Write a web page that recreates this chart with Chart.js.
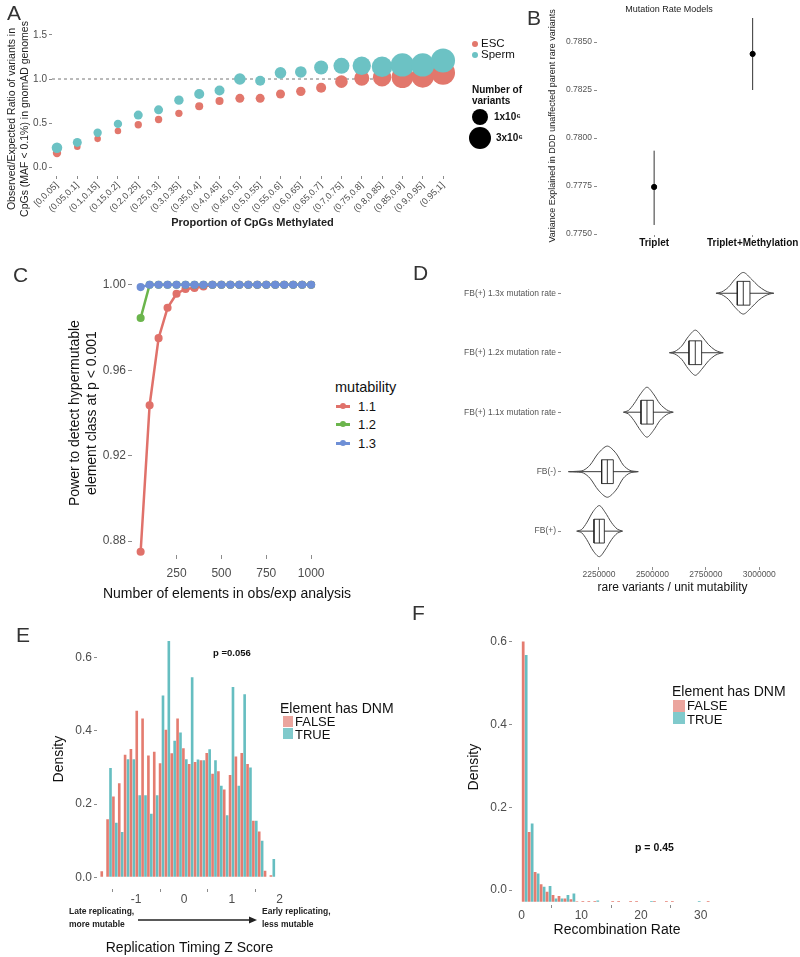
<!DOCTYPE html>
<html>
<head>
<meta charset="utf-8">
<script src="https://cdn.jsdelivr.net/npm/chart.js@4.4.1/dist/chart.umd.min.js"></script>
<style>
body { margin: 0; background: #fff; font-family: "Liberation Sans", Arial, sans-serif; }
#page { position: relative; width: 800px; height: 957px; overflow: hidden; }
canvas { position: absolute; }
.t { position: absolute; white-space: nowrap; line-height: 1; color: #111; }
.letter { position: absolute; font-size: 21px; color: #333; line-height: 1; }
.dot { position: absolute; border-radius: 50%; }
.sw { position: absolute; }
</style>
</head>
<body>
<div id="page">
  <canvas id="chartA" width="465" height="232" style="left:0;top:0"></canvas>
  <canvas id="chartB" width="260" height="250" style="left:540px;top:0"></canvas>
  <canvas id="chartC" width="272" height="343" style="left:60px;top:262px"></canvas>
  <canvas id="chartD" width="400" height="346" style="left:400px;top:250px"></canvas>
  <canvas id="chartE" width="252" height="337" style="left:40px;top:620px"></canvas>
  <canvas id="chartF" width="282" height="320" style="left:450px;top:620px"></canvas>

  <!-- panel letters -->
  <div class="letter" style="left:7px;top:2px">A</div>
  <div class="letter" style="left:527px;top:7px">B</div>
  <div class="letter" style="left:13px;top:264px">C</div>
  <div class="letter" style="left:413px;top:262px">D</div>
  <div class="letter" style="left:16px;top:624px">E</div>
  <div class="letter" style="left:412px;top:602px">F</div>

  <!-- A: y title and legends -->
  <div class="t" style="left:-92px;top:106px;width:220px;height:26px;font-size:10.5px;line-height:13px;text-align:center;transform:rotate(-90deg);color:#222">Observed/Expected Ratio of variants in<br>CpGs (MAF &lt; 0.1%) in gnomAD genomes</div>
  <div class="dot" style="left:472px;top:41px;width:6px;height:6px;background:#e2776c"></div>
  <div class="t" style="left:481px;top:38px;font-size:11.5px">ESC</div>
  <div class="dot" style="left:472px;top:52px;width:6px;height:6px;background:#6cc2c4"></div>
  <div class="t" style="left:481px;top:49px;font-size:11.5px">Sperm</div>
  <div class="t" style="left:472px;top:85px;font-size:10px;font-weight:bold">Number of</div>
  <div class="t" style="left:472px;top:96px;font-size:10px;font-weight:bold">variants</div>
  <div class="dot" style="left:472px;top:109px;width:16px;height:16px;background:#000"></div>
  <div class="t" style="left:494px;top:112px;font-size:10px;font-weight:bold">1x10⁶</div>
  <div class="dot" style="left:469px;top:127px;width:22px;height:22px;background:#000"></div>
  <div class="t" style="left:496px;top:133px;font-size:10px;font-weight:bold">3x10⁶</div>

  <!-- C: x title and legend -->
  <div class="t" style="left:100px;top:586px;width:254px;text-align:center;font-size:14px">Number of elements in obs/exp analysis</div>
  <div class="t" style="left:335px;top:380px;font-size:14.5px">mutability</div>
  <div class="sw" style="left:336px;top:405px;width:14px;height:2.5px;background:#e0716a"></div>
  <div class="dot" style="left:340px;top:403px;width:6px;height:6px;background:#e0716a"></div>
  <div class="t" style="left:358px;top:400px;font-size:13px">1.1</div>
  <div class="sw" style="left:336px;top:423px;width:14px;height:2.5px;background:#6bb54c"></div>
  <div class="dot" style="left:340px;top:421px;width:6px;height:6px;background:#6bb54c"></div>
  <div class="t" style="left:358px;top:418px;font-size:13px">1.2</div>
  <div class="sw" style="left:336px;top:442px;width:14px;height:2.5px;background:#6e8fd6"></div>
  <div class="dot" style="left:340px;top:440px;width:6px;height:6px;background:#6e8fd6"></div>
  <div class="t" style="left:358px;top:437px;font-size:13px">1.3</div>

  <!-- E annotations and legend -->
  <div class="t" style="left:213px;top:648px;font-size:9.5px;font-weight:bold">p =0.056</div>
  <div class="t" style="left:280px;top:701px;font-size:14px">Element has DNM</div>
  <div class="sw" style="left:283px;top:716px;width:10px;height:11px;background:#eba59e"></div>
  <div class="t" style="left:295px;top:715px;font-size:13px">FALSE</div>
  <div class="sw" style="left:283px;top:728px;width:10px;height:11px;background:#80cacc"></div>
  <div class="t" style="left:295px;top:728px;font-size:13px">TRUE</div>
  <div class="t" style="left:69px;top:907px;font-size:8.5px;font-weight:bold;color:#222">Late replicating,</div>
  <div class="t" style="left:69px;top:920px;font-size:8.5px;font-weight:bold;color:#222">more mutable</div>
  <div class="t" style="left:262px;top:907px;font-size:8.5px;font-weight:bold;color:#222">Early replicating,</div>
  <div class="t" style="left:262px;top:920px;font-size:8.5px;font-weight:bold;color:#222">less mutable</div>
  <svg style="position:absolute;left:130px;top:912px" width="135" height="16">
    <line x1="8" y1="8" x2="121" y2="8" stroke="#222" stroke-width="1.6"></line>
    <polygon points="127,8 119,4.5 119,11.5" fill="#222"></polygon>
  </svg>

  <!-- F annotations and legend -->
  <div class="t" style="left:635px;top:842px;font-size:10.5px;font-weight:bold">p = 0.45</div>
  <div class="t" style="left:672px;top:684px;font-size:14px">Element has DNM</div>
  <div class="sw" style="left:673px;top:700px;width:12px;height:12px;background:#eba59e"></div>
  <div class="t" style="left:687px;top:699px;font-size:13px">FALSE</div>
  <div class="sw" style="left:673px;top:712px;width:12px;height:12px;background:#80cacc"></div>
  <div class="t" style="left:687px;top:713px;font-size:13px">TRUE</div>
</div>

<script>
// ---- A: obs/exp ratio of CpG variants by methylation bin ----
var binsA = ['[0,0.05]', '(0.05,0.1]', '(0.1,0.15]', '(0.15,0.2]', '(0.2,0.25]', '(0.25,0.3]', '(0.3,0.35]',
	'(0.35,0.4]', '(0.4,0.45]', '(0.45,0.5]', '(0.5,0.55]', '(0.55,0.6]', '(0.6,0.65]', '(0.65,0.7]',
	'(0.7,0.75]', '(0.75,0.8]', '(0.8,0.85]', '(0.85,0.9]', '(0.9,0.95]', '(0.95,1]'];
var escRatio = [0.16, 0.23, 0.32, 0.41, 0.48, 0.54, 0.61, 0.69, 0.75, 0.78, 0.78, 0.83, 0.86, 0.90, 0.97, 1.01, 1.02, 1.02, 1.03, 1.07];
var spermRatio = [0.22, 0.28, 0.39, 0.49, 0.59, 0.65, 0.76, 0.83, 0.87, 1.00, 0.98, 1.07, 1.08, 1.13, 1.15, 1.15, 1.14, 1.16, 1.16, 1.21];
var escCount = [0.19, 0.04, 0.04, 0.04, 0.10, 0.10, 0.10, 0.16, 0.16, 0.25, 0.25, 0.25, 0.29, 0.36, 0.68, 1.05, 1.68, 2.39, 2.64, 3.0]; // millions
var spermCount = [0.42, 0.25, 0.19, 0.19, 0.25, 0.25, 0.29, 0.36, 0.36, 0.55, 0.36, 0.55, 0.55, 0.89, 1.22, 1.68, 2.16, 2.84, 2.84, 3.0];
var ticksAy = [0, 0.5, 1.0, 1.5];

// ---- B: variance explained per model ----
var modelsB = ['Triplet', 'Triplet+Methylation'];
var varExpB = [0.77745, 0.78438];
var varLoB = [0.77547, 0.78250];
var varHiB = [0.77934, 0.78625];
var ticksBy = [0.7750, 0.7775, 0.7800, 0.7825, 0.7850];

// ---- C: power curves ----
var nElements = [50, 100, 150, 200, 250, 300, 350, 400, 450, 500, 550, 600, 650, 700, 750, 800, 850, 900, 950, 1000];
var power11 = [0.875, 0.9436, 0.975, 0.9892, 0.9958, 0.998, 0.9985, 0.9992, 1, 1, 1, 1, 1, 1, 1, 1, 1, 1, 1, 1];
var power12 = [0.9844, 1, 1, 1, 1, 1, 1, 1, 1, 1, 1, 1, 1, 1, 1, 1, 1, 1, 1, 1];
var power13 = [0.9989, 1, 1, 1, 1, 1, 1, 1, 1, 1, 1, 1, 1, 1, 1, 1, 1, 1, 1, 1];
var ticksCx = [250, 500, 750, 1000];
var ticksCy = [0.88, 0.92, 0.96, 1.00];

// ---- D: violins (bottom to top) ----
var groupsD = ['FB(+)', 'FB(-)', 'FB(+) 1.1x mutation rate', 'FB(+) 1.2x mutation rate', 'FB(+) 1.3x mutation rate'];
var medianD = [2251600, 2289000, 2474500, 2700600, 2925200];
var q1D = [2226600, 2262500, 2446500, 2671000, 2897100];
var q3D = [2275000, 2317000, 2504200, 2730300, 2956400];
var lowD = [2150000, 2112000, 2368000, 2584000, 2801000];
var highD = [2356000, 2428000, 2593000, 2827000, 3064000];
var densXD = [
	[2145500, 2168900, 2192300, 2223500, 2251600, 2278100, 2309300, 2335800, 2360700],
	[2106500, 2145500, 2176700, 2207900, 2246900, 2289000, 2329500, 2363800, 2395000, 2434000],
	[2363800, 2387200, 2413700, 2444900, 2474500, 2504200, 2535300, 2566500, 2585200, 2597700],
	[2579000, 2605500, 2636700, 2667900, 2700600, 2730300, 2761500, 2792600, 2816000, 2831600],
	[2797300, 2823800, 2855000, 2886200, 2925200, 2964200, 2995300, 3026500, 3049900, 3068600]
];
var densWD = [
	[0, 0.028, 0.14, 0.335, 0.43, 0.32, 0.14, 0.034, 0],
	[0, 0.006, 0.022, 0.11, 0.31, 0.43, 0.31, 0.11, 0.022, 0],
	[0, 0.028, 0.14, 0.31, 0.42, 0.31, 0.14, 0.04, 0.011, 0],
	[0, 0.022, 0.11, 0.27, 0.38, 0.28, 0.14, 0.045, 0.011, 0],
	[0, 0.022, 0.10, 0.235, 0.35, 0.235, 0.123, 0.045, 0.011, 0]
];
var ticksDx = [2250000, 2500000, 2750000, 3000000];

// ---- E: replication timing histogram (30 bins) ----
var zCenters = [-1.69, -1.568, -1.446, -1.324, -1.202, -1.08, -0.958, -0.836, -0.714, -0.592, -0.47, -0.348, -0.226, -0.104, 0.018,
	0.14, 0.262, 0.384, 0.506, 0.628, 0.75, 0.872, 0.994, 1.116, 1.238, 1.36, 1.482, 1.604, 1.726, 1.848];
var densFalseE = [0.017, 0.159, 0.221, 0.257, 0.335, 0.351, 0.455, 0.434, 0.333, 0.343, 0.312, 0.403, 0.339, 0.434, 0.353,
	0.310, 0.315, 0.320, 0.340, 0.283, 0.290, 0.240, 0.280, 0.330, 0.340, 0.310, 0.155, 0.125, 0.018, 0.006];
var densTrueE = [0, 0.299, 0.149, 0.124, 0.323, 0.323, 0.224, 0.224, 0.174, 0.224, 0.497, 0.646, 0.373, 0.396, 0.323,
	0.547, 0.322, 0.320, 0.350, 0.320, 0.250, 0.170, 0.520, 0.250, 0.500, 0.300, 0.155, 0.100, 0, 0.050];
var ticksEx = [-1, 0, 1, 2];
var ticksEy = [0, 0.2, 0.4, 0.6];

// ---- F: recombination rate histogram ----
var recCenters = [0.5, 1.5, 2.5, 3.5, 4.5, 5.5, 6.5, 7.5, 8.5, 9.5, 10.5, 11.5, 12.5, 13.5, 14.5, 15.5,
	16.5, 17.5, 18.5, 19.5, 20.5, 21.5, 22.5, 23.5, 24.5, 25.5, 26.5, 27.5, 28.5, 29.5, 30.5, 31.5];
var densFalseF = [0.600, 0.140, 0.044, 0.014, -0.004, -0.012, -0.014, -0.020, -0.022, -0.027, -0.026, -0.026, -0.026, -0.028, -0.028, -0.026,
	-0.026, -0.028, -0.026, -0.026, -0.028, -0.028, -0.026, -0.028, -0.026, -0.026, -0.028, -0.028, -0.028, -0.028, -0.028, -0.026];
var densTrueF = [0.567, 0.161, 0.040, 0.008, 0.010, -0.020, -0.020, -0.012, -0.008, -0.028, -0.028, -0.028, -0.025, -0.028, -0.028, -0.028,
	-0.028, -0.028, -0.028, -0.028, -0.028, -0.026, -0.028, -0.028, -0.028, -0.028, -0.028, -0.028, -0.028, -0.026, -0.028, -0.028];
var ticksFx = [0, 10, 20, 30];
var ticksFy = [0, 0.2, 0.4, 0.6];

var RED = '#e2776c', TEAL = '#6cc2c4';
var RED_H = '#e47c70', TEAL_H = '#66bec1';

Chart.defaults.font.family = '"Liberation Sans", Arial, sans-serif';
Chart.defaults.color = '#4d4d4d';
Chart.defaults.animation = false;
Chart.defaults.plugins.legend.display = false;
Chart.defaults.plugins.tooltip.enabled = false;

function setTicks(list) {
	return function (s) { s.ticks = list.map(function (v) { return { value: v }; }); };
}
function fixWidth(w) { return function (s) { s.width = w; }; }
function fixHeight(h) { return function (s) { s.height = h; }; }
function gridOpts(len) {
	return { drawOnChartArea: false, color: '#8c8c8c', tickLength: len, tickWidth: 1 };
}
function plain(v) { return String(v); }

// area of the bubble grows with number of variants
function bubbleR(c) { return Math.sqrt(9 + 45 * c); }

// dashed reference line at a y value
var hlinePlugin = {
	id: 'hline',
	beforeDatasetsDraw: function (chart, args, opts) {
		var y = chart.scales.y.getPixelForValue(opts.value);
		var ctx = chart.ctx;
		ctx.save();
		ctx.setLineDash([3, 3]);
		ctx.strokeStyle = '#555';
		ctx.lineWidth = 0.8;
		ctx.beginPath();
		ctx.moveTo(chart.chartArea.left, y);
		ctx.lineTo(chart.chartArea.right, y);
		ctx.stroke();
		ctx.restore();
	}
};

// ---------- A ----------
new Chart(document.getElementById('chartA'), {
	type: 'bubble',
	data: {
		datasets: [
			{
				label: 'Sperm', order: 0, clip: false, backgroundColor: TEAL, borderWidth: 0, hoverBorderWidth: 0,
				data: binsA.map(function (b, i) { return { x: i, y: spermRatio[i], r: bubbleR(spermCount[i]) }; })
			},
			{
				label: 'ESC', order: 1, clip: false, backgroundColor: RED, borderWidth: 0, hoverBorderWidth: 0,
				data: binsA.map(function (b, i) { return { x: i, y: escRatio[i], r: bubbleR(escCount[i]) }; })
			}
		]
	},
	options: {
		responsive: false,
		devicePixelRatio: 1,
		layout: { padding: { left: 0, top: 17, right: 10, bottom: 0 } },
		plugins: { hline: { value: 1 } },
		scales: {
			x: {
				type: 'linear', min: -0.245, max: 19.49,
				afterBuildTicks: setTicks(binsA.map(function (b, i) { return i; })),
				afterFit: fixHeight(56),
				border: { display: false },
				grid: gridOpts(3),
				ticks: {
					autoSkip: false, minRotation: 45, maxRotation: 45, padding: 1, font: { size: 9 },
					callback: function (v) { return binsA[v]; }
				},
				title: { display: true, text: 'Proportion of CpGs Methylated', color: '#222', font: { size: 11, weight: 'bold' }, padding: { top: 0, bottom: 2 } }
			},
			y: {
				min: -0.102, max: 1.7045,
				afterBuildTicks: setTicks(ticksAy),
				afterFit: fixWidth(52),
				border: { display: false },
				grid: gridOpts(3),
				ticks: { padding: 2, font: { size: 10 }, callback: function (v) { return v.toFixed(1); } }
			}
		}
	},
	plugins: [hlinePlugin]
});

// ---------- B ----------
var dsB = modelsB.map(function (m, i) {
	return {
		type: 'line', data: [{ x: i + 1, y: varLoB[i] }, { x: i + 1, y: varHiB[i] }],
		borderColor: '#333', borderWidth: 1, pointRadius: 0
	};
});
dsB.unshift({
	data: modelsB.map(function (m, i) { return { x: i + 1, y: varExpB[i] }; }),
	backgroundColor: '#000', borderColor: '#000', pointRadius: 2.6
});
new Chart(document.getElementById('chartB'), {
	type: 'scatter',
	data: { datasets: dsB },
	options: {
		responsive: false,
		devicePixelRatio: 1,
		layout: { padding: { left: 0, top: 0, right: 2, bottom: 0 } },
		plugins: {
			title: { display: true, text: 'Mutation Rate Models', color: '#222', font: { size: 9, weight: 'normal' }, padding: { top: 4, bottom: 2 } }
		},
		scales: {
			x: {
				type: 'linear', min: 0.42, max: 2.43,
				afterBuildTicks: setTicks([1, 2]),
				afterFit: fixHeight(15),
				border: { display: false },
				grid: gridOpts(2),
				ticks: { padding: 0, color: '#111', font: { size: 10, weight: 'bold' }, callback: function (v) { return modelsB[v - 1]; } }
			},
			y: {
				min: 0.774948, max: 0.786313,
				afterBuildTicks: setTicks(ticksBy),
				afterFit: fixWidth(57),
				border: { display: false },
				grid: gridOpts(3),
				ticks: { padding: 2, color: '#555', font: { size: 8.5 }, callback: function (v) { return v.toFixed(4); } },
				title: { display: true, text: 'Variance Explained in DDD unaffected parent rare variants', color: '#222', font: { size: 9 }, padding: { top: 7.6, bottom: 0 } }
			}
		}
	}
});

// ---------- C ----------
function powerSet(vals, color, ord) {
	return {
		data: nElements.map(function (n, i) { return { x: n, y: vals[i] }; }),
		showLine: true, order: ord, borderColor: color, backgroundColor: color,
		borderWidth: 2.5, pointRadius: 2.8, clip: false
	};
}
new Chart(document.getElementById('chartC'), {
	type: 'scatter',
	data: { datasets: [powerSet(power13, '#6e8fd6', 0), powerSet(power12, '#6bb54c', 1), powerSet(power11, '#e0716a', 2)] },
	options: {
		responsive: false,
		devicePixelRatio: 1,
		layout: { padding: { left: 0, top: 6, right: 10, bottom: 0 } },
		scales: {
			x: {
				type: 'linear', min: 1.83, max: 1053.9,
				afterBuildTicks: setTicks(ticksCx),
				afterFit: fixHeight(50),
				border: { display: false },
				grid: gridOpts(4),
				ticks: { padding: 7, font: { size: 12 }, callback: plain }
			},
			y: {
				min: 0.8735, max: 1.00634,
				afterBuildTicks: setTicks(ticksCy),
				afterFit: fixWidth(72),
				border: { display: false },
				grid: gridOpts(4),
				ticks: { padding: 2, font: { size: 12 }, callback: function (v) { return v.toFixed(2); } },
				title: { display: true, text: ['Power to detect hypermutable', 'element class at p < 0.001'], color: '#111', font: { size: 14 }, padding: { top: 7, bottom: 0 } }
			}
		}
	}
});

// ---------- D ----------
var dsD = [];
groupsD.forEach(function (g, k) {
	var c = k + 1, h = 0.2;
	var xs = densXD[k], ws = densWD[k];
	var outline = xs.map(function (x, j) { return { x: x, y: c + ws[j] }; });
	for (var j = xs.length - 1; j >= 0; j--) outline.push({ x: xs[j], y: c - ws[j] });
	dsD.push({ data: outline, showLine: true, tension: 0.3, borderColor: '#4a4a4a', borderWidth: 1, pointRadius: 0 });
	var line = { showLine: true, borderColor: '#222', borderWidth: 0.9, pointRadius: 0 };
	dsD.push(Object.assign({ data: [{ x: q1D[k], y: c - h }, { x: q3D[k], y: c - h }, { x: q3D[k], y: c + h }, { x: q1D[k], y: c + h }, { x: q1D[k], y: c - h }] }, line));
	dsD.push(Object.assign({ data: [{ x: medianD[k], y: c - h }, { x: medianD[k], y: c + h }] }, line));
	dsD.push(Object.assign({ data: [{ x: lowD[k], y: c }, { x: q1D[k], y: c }] }, line));
	dsD.push(Object.assign({ data: [{ x: q3D[k], y: c }, { x: highD[k], y: c }] }, line));
});
new Chart(document.getElementById('chartD'), {
	type: 'scatter',
	data: { datasets: dsD },
	options: {
		responsive: false,
		devicePixelRatio: 1,
		layout: { padding: { left: 0, top: 6, right: 16, bottom: 0 } },
		scales: {
			x: {
				type: 'linear', min: 2072200, max: 3115700,
				afterBuildTicks: setTicks(ticksDx),
				afterFit: fixHeight(29),
				border: { display: false },
				grid: gridOpts(3),
				ticks: { padding: 0, color: '#555', font: { size: 8.5 }, callback: plain },
				title: { display: true, text: 'rare variants / unit mutability', color: '#111', font: { size: 12 }, padding: { top: 0, bottom: 1 } }
			},
			y: {
				min: 0.397, max: 5.608,
				afterBuildTicks: setTicks([1, 2, 3, 4, 5]),
				afterFit: fixWidth(161),
				border: { display: false },
				grid: gridOpts(3),
				ticks: { padding: 2, color: '#555', font: { size: 8.5 }, callback: function (v) { return groupsD[v - 1]; } }
			}
		}
	}
});

// ---------- E ----------
new Chart(document.getElementById('chartE'), {
	type: 'bar',
	data: {
		datasets: [
			{ label: 'FALSE', backgroundColor: RED_H, data: zCenters.map(function (z, i) { return { x: z, y: densFalseE[i] }; }) },
			{ label: 'TRUE', backgroundColor: TEAL_H, data: zCenters.map(function (z, i) { return { x: z, y: densTrueE[i] }; }) }
		]
	},
	options: {
		responsive: false,
		devicePixelRatio: 1,
		categoryPercentage: 1,
		barPercentage: 0.9,
		layout: { padding: { left: 0, top: 8, right: 10, bottom: 0 } },
		scales: {
			x: {
				type: 'linear', offset: false, min: -1.82, max: 2.05,
				afterBuildTicks: setTicks(ticksEx),
				afterFit: fixHeight(68),
				border: { display: false },
				grid: gridOpts(3),
				ticks: { padding: 0, font: { size: 12 }, callback: plain },
				title: { display: true, text: 'Replication Timing Z Score', color: '#111', font: { size: 14 }, padding: { top: 0, bottom: 0 } }
			},
			y: {
				min: -0.0318, max: 0.678,
				afterBuildTicks: setTicks(ticksEy),
				afterFit: fixWidth(57),
				border: { display: false },
				grid: gridOpts(3),
				ticks: { padding: 2, font: { size: 12 }, callback: function (v) { return v.toFixed(1); } },
				title: { display: true, text: 'Density', color: '#111', font: { size: 14 }, padding: { top: 11, bottom: 0 } }
			}
		}
	}
});

// ---------- F ----------
new Chart(document.getElementById('chartF'), {
	type: 'bar',
	data: {
		datasets: [
			{ label: 'FALSE', base: -0.028, backgroundColor: RED_H, data: recCenters.map(function (r, i) { return { x: r, y: densFalseF[i] }; }) },
			{ label: 'TRUE', base: -0.028, backgroundColor: TEAL_H, data: recCenters.map(function (r, i) { return { x: r, y: densTrueF[i] }; }) }
		]
	},
	options: {
		responsive: false,
		devicePixelRatio: 1,
		categoryPercentage: 1,
		barPercentage: 0.92,
		layout: { padding: { left: 0, top: 7, right: 10, bottom: 0 } },
		scales: {
			x: {
				type: 'linear', offset: false, min: -1.626, max: 33.57,
				afterBuildTicks: setTicks(ticksFx),
				afterFit: fixHeight(35),
				border: { display: false },
				grid: gridOpts(3),
				ticks: { padding: 0, font: { size: 12 }, callback: plain },
				title: { display: true, text: 'Recombination Rate', color: '#111', font: { size: 14 }, padding: { top: 0, bottom: 1 } }
			},
			y: {
				min: -0.0359, max: 0.6295,
				afterBuildTicks: setTicks(ticksFy),
				afterFit: fixWidth(62),
				border: { display: false },
				grid: gridOpts(3),
				ticks: { padding: 2, font: { size: 12 }, callback: function (v) { return v.toFixed(1); } },
				title: { display: true, text: 'Density', color: '#111', font: { size: 14 }, padding: { top: 16, bottom: 0 } }
			}
		}
	}
});
</script>
</body>
</html>
